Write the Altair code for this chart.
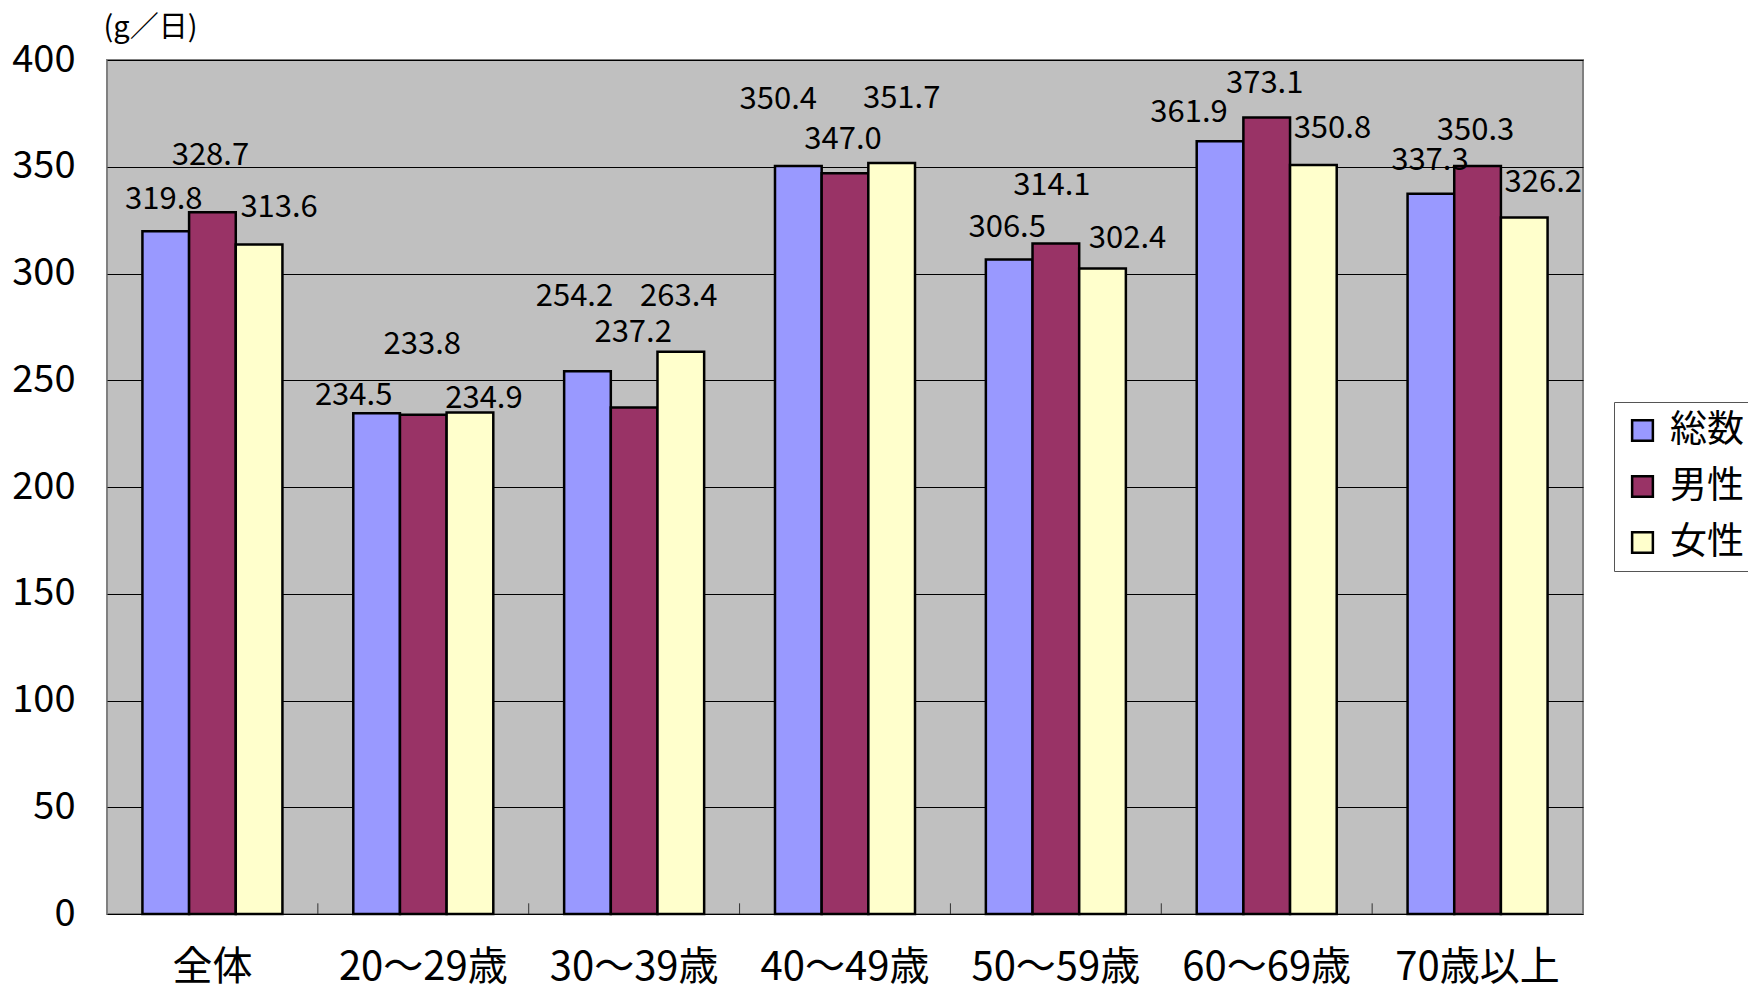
import altair as alt
import pandas as pd

categories = ["全体", "20～29歳", "30～39歳", "40～49歳", "50～59歳", "60～69歳", "70歳以上"]
series = ["総数", "男性", "女性"]
total = [319.8, 234.5, 254.2, 350.4, 306.5, 361.9, 337.3]
male = [328.7, 233.8, 237.2, 347.0, 314.1, 373.1, 350.3]
female = [313.6, 234.9, 263.4, 351.7, 302.4, 350.8, 326.2]
colors = ["#9999FF", "#993366", "#FFFFCC"]
y_ticks = [0, 50, 100, 150, 200, 250, 300, 350, 400]
category_boundaries = [1, 2, 3, 4, 5, 6]

# label nudges in pixels (style only)
label_dx = {
    "総数": [-2, -23, -13, -20, -2, -31, -1],
    "男性": [-2, -1, -1, -2, -4, -2, -2],
    "女性": [20, 14, -2, 10, 25, 19, 19],
}
label_dy = {
    "総数": [-31, -17, -74, -66, -32, -28, -33],
    "男性": [-56, -70, -75, -33, -57, -33, -35],
    "女性": [-36, -13, -55, -64, -29, -36, -35],
}

FONT = "Noto Sans CJK JP"

values = {"総数": total, "男性": male, "女性": female}
rows = []
for s in series:
    for i, c in enumerate(categories):
        rows.append({"cat": c, "series": s, "value": values[s][i],
                     "key": f"{s}-{i}", "dx": label_dx[s][i], "dy": label_dy[s][i]})
df = pd.DataFrame(rows)

x_enc = alt.X("cat:N", sort=categories,
              scale=alt.Scale(paddingInner=0.336, paddingOuter=0.168),
              axis=alt.Axis(title=None, labelAngle=0, labelFont=FONT, labelFontSize=40,
                            labelColor="black", labelBaseline="middle", labelPadding=53,
                            ticks=False, tickSize=0, domain=False, grid=False))
xo_enc = alt.XOffset("series:N", sort=series,
                     scale=alt.Scale(paddingInner=0, paddingOuter=0))
y_enc = alt.Y("value:Q",
              scale=alt.Scale(domain=[0, 400], nice=False, zero=True),
              axis=alt.Axis(values=y_ticks, title="(g／日)", titleAngle=0, titleAlign="left",
                            titleBaseline="middle", titleX=-4, titleY=-33,
                            titleFont=FONT, titleFontSize=29, titleFontWeight="normal",
                            titleColor="black",
                            labelFont=FONT, labelFontSize=38, labelColor="black",
                            labelPadding=32, ticks=False, tickSize=0, domain=False,
                            grid=True, gridColor="black", gridWidth=1, gridOpacity=1))

base = alt.Chart(df)

bars = base.mark_bar(stroke="black", strokeWidth=2.5).encode(
    x=x_enc,
    xOffset=xo_enc,
    y=y_enc,
    color=alt.Color("series:N", sort=series,
                    scale=alt.Scale(domain=series, range=colors),
                    legend=alt.Legend(title=None, orient="none", legendX=1507, legendY=342,
                                      symbolType="square", symbolSize=430,
                                      symbolStrokeColor="black", symbolStrokeWidth=2.5,
                                      labelFont=FONT, labelFontSize=37, labelColor="black",
                                      labelOffset=9, rowPadding=18, padding=10,
                                      strokeColor="#555555", fillColor="white")),
)

layers = [bars]
for _, r in df.iterrows():
    layers.append(
        base.transform_filter(alt.datum.key == r["key"]).mark_text(
            font=FONT, fontSize=31, color="black", baseline="middle", align="center",
            dx=int(r["dx"]), dy=int(r["dy"])
        ).encode(
            x=alt.X("cat:N", sort=categories),
            xOffset=alt.XOffset("series:N", sort=series),
            y=alt.Y("value:Q"),
            text=alt.Text("value:Q", format=".1f"),
        )
    )

main = alt.layer(*layers)

tick_df = pd.DataFrame({"b": category_boundaries})
ticks = alt.Chart(tick_df).mark_rule(color="#333333", strokeWidth=1).encode(
    x=alt.X("b:Q", scale=alt.Scale(domain=[0, len(categories)], nice=False, zero=True), axis=None),
    y=alt.datum(0),
    y2=alt.datum(5),
)

chart = alt.layer(main, ticks).resolve_scale(x="independent").properties(
    width=1476, height=854,
    padding={"left": 107, "top": 60, "right": 165, "bottom": 76},
    autosize=alt.AutoSizeParams(type="none"),
    background="white",
).configure_view(
    fill="#C0C0C0", stroke="#808080", strokeWidth=2
)

chart.save("out.html", embed_options={"renderer": "svg", "actions": False})
